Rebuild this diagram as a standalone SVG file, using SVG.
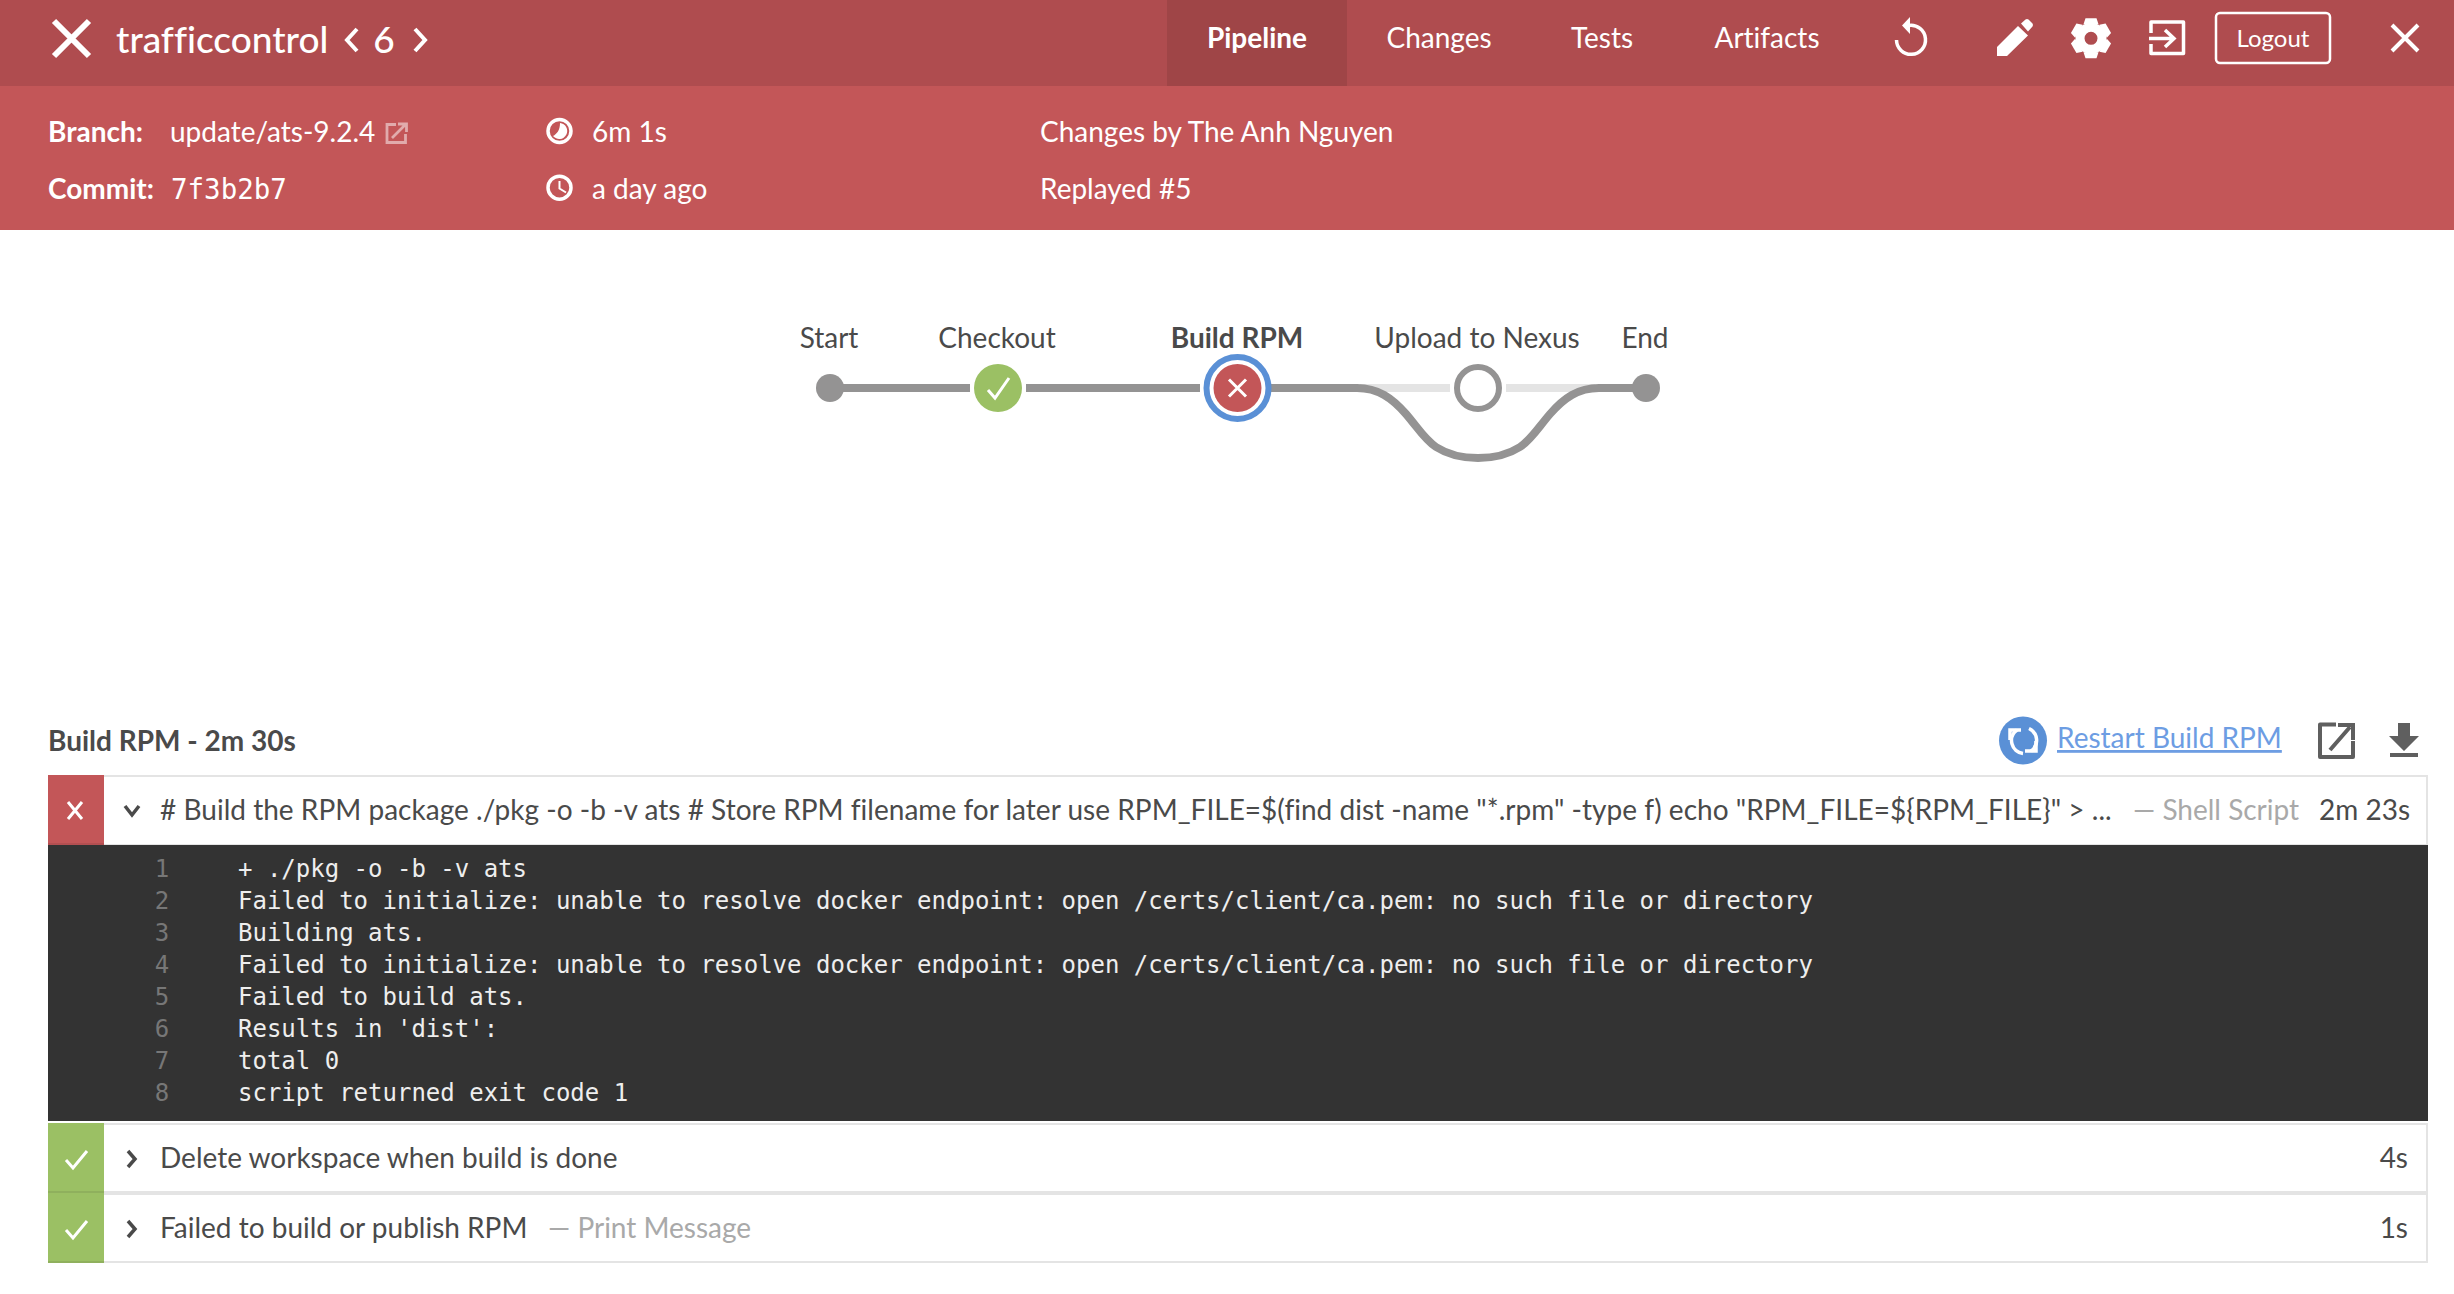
<svg xmlns="http://www.w3.org/2000/svg" xmlns:xlink="http://www.w3.org/1999/xlink" width="2454" height="1294" viewBox="0 0 2454 1294">
<style>
text{font-family:Lato,"Open Sans",sans-serif;font-size:28px;fill:#4a4a4a;font-variant-ligatures:none}
.w{fill:#fff}
.b{font-weight:700}
.mono{font-family:"DejaVu Sans Mono","Liberation Mono",monospace;font-size:24px;fill:#eee}
.num{font-family:"DejaVu Sans Mono","Liberation Mono",monospace;font-size:24px;fill:#777;text-anchor:middle}
.m{text-anchor:middle}
.e{text-anchor:end}
.g{fill:#a9a9a9}
.ic{fill:none;stroke:#fff;stroke-width:3.5}
.ch{fill:none;stroke:#4a4a4a;stroke-width:3.5}
.tick{fill:none;stroke:#fff;stroke-width:3}
.edge{fill:none;stroke:#949393;stroke-width:8}
.skip{fill:none;stroke:#e4e4e4;stroke-width:8}
.rowb{fill:#fff;stroke:#e4e4e4;stroke-width:2}
</style>
<defs><path id="tooth" d="M-7.500 -14 L-5.500 -20 H5.500 L7.500 -14Z" fill="#fff"/></defs>
<rect width="2454" height="1294" fill="#fff"/>
<g id="topbar">
<rect width="2454" height="86" fill="#af4c4f"/>
<rect x="1167" width="180" height="86" fill="#9f4547"/>
<path d="M54 21 89 56M89 21 54 56" stroke="#fff" stroke-width="6" fill="none"/>
<text class="w" x="116" y="53" style="font-size:37px;font-weight:500">trafficcontrol</text>
<path d="M357 29 347 40 357 51M415 29 425 40 415 51" stroke="#fff" stroke-width="4" fill="none"/>
<text class="w m" x="384" y="53" style="font-size:37px;font-weight:500">6</text>
<text class="w m b" x="1257" y="48">Pipeline</text>
<text class="w m" x="1439" y="48">Changes</text>
<text class="w m" x="1602" y="48">Tests</text>
<text class="w m" x="1767" y="48">Artifacts</text>
<g id="replay-icon">
<path class="ic" d="M1909 25.500A14.500 14.500 0 1 1 1896.500 40"/>
<path d="M1902 25.500 1910 17V34Z" fill="#fff"/>
</g>
<g id="pencil-icon">
<path d="M1997 47 2018 26 2028 35.500 2007 56H1997ZM2021 23.500 2025.500 19.500Q2027 18.500 2028.500 19.500L2032.500 23.500Q2033.500 25 2032.500 26.500L2028 31.500Z" fill="#fff"/>
</g>
<g id="gear-icon" transform="translate(2091 38.300)">
<circle r="11" fill="none" stroke="#fff" stroke-width="9"/>
<use xlink:href="#tooth" href="#tooth"/>
<use xlink:href="#tooth" href="#tooth" transform="rotate(60)"/>
<use xlink:href="#tooth" href="#tooth" transform="rotate(120)"/>
<use xlink:href="#tooth" href="#tooth" transform="rotate(180)"/>
<use xlink:href="#tooth" href="#tooth" transform="rotate(240)"/>
<use xlink:href="#tooth" href="#tooth" transform="rotate(300)"/>
</g>
<g id="exit-icon">
<path class="ic" stroke-linejoin="round" d="M2151 33V22H2183.500V53.500H2151V44"/>
<path class="ic" d="M2149 38.500H2173M2165 30 2174 38.500 2165 47"/>
</g>
<rect x="2216" y="13" width="114" height="50" rx="4" fill="none" stroke="#fff" stroke-width="2.5"/>
<text class="w m" x="2273" y="47" style="font-size:24px">Logout</text>
<path d="M2392 25 2418 51M2418 25 2392 51" stroke="#fff" stroke-width="4" fill="none"/>
</g>
<g id="header">
<rect y="86" width="2454" height="144" fill="#c35658"/>
<text class="w b" x="48" y="141.500">Branch:</text>
<text class="w" x="170" y="141.500">update/ats-9.2.4</text>
<path d="M396 124.500H387V142.500H405.500V134M392 138 406 124M398 124H406.500V132" fill="none" stroke="#fff" stroke-opacity=".5" stroke-width="2.800"/>
<circle cx="559.500" cy="131" r="11.500" class="ic" stroke-width="3"/>
<path d="M560 123A8 8 0 1 1 553 136C557 134 560 130 560 123Z" fill="#fff"/>
<text class="w" x="592" y="141.500">6m 1s</text>
<text class="w" x="1040" y="141.500">Changes by The Anh Nguyen</text>
<text class="w b" x="48" y="199">Commit:</text>
<text class="mono w" x="171" y="199" style="font-size:27.5px;fill:#fff">7f3b2b7</text>
<circle cx="559.500" cy="187.700" r="11.500" class="ic" stroke-width="3"/>
<path d="M559.500 181V188.500L566 192.500" fill="none" stroke="#fff" stroke-width="2"/>
<text class="w" x="592" y="199">a day ago</text>
<text class="w" x="1040" y="199">Replayed #5</text>
</g>
<g id="connectors">
<path class="skip" d="M1360 388H1450M1506 388H1595"/>
<path class="edge" d="M830 388H970M1026 388H1200M1270 388H1357C1378 388 1392 398 1406 414C1418 428 1425 440 1436 447C1450 456 1465 458 1478 458C1491 458 1506 456 1520 447C1531 440 1538 428 1550 414C1564 398 1578 388 1599 388H1646"/>
</g>
<g id="node-start">
<circle cx="830" cy="388" r="14" fill="#949393"/>
<text class="m" x="829" y="348">Start</text>
</g>
<g id="node-checkout">
<circle cx="998" cy="388" r="24" fill="#9bc064"/>
<path class="tick" d="M988 390 995 398 1009 378"/>
<text class="m" x="997" y="348">Checkout</text>
</g>
<g id="node-build">
<circle cx="1237.500" cy="388" r="31" fill="#fff" stroke="#5a90d6" stroke-width="6"/>
<circle cx="1237.500" cy="388" r="24" fill="#c35658"/>
<path d="M1229 379.500 1246 396.500M1246 379.500 1229 396.500" stroke="#fff" stroke-width="3"/>
<text class="m b" x="1237" y="348">Build RPM</text>
</g>
<g id="node-upload">
<circle cx="1478" cy="388" r="21" fill="#fff" stroke="#949393" stroke-width="6"/>
<text class="m" x="1477" y="348">Upload to Nexus</text>
</g>
<g id="node-end">
<circle cx="1646" cy="388" r="14" fill="#949393"/>
<text class="m" x="1645" y="348">End</text>
</g>
<g id="step-title">
<text class="b" x="48" y="751">Build RPM - 2m 30s</text>
<circle cx="2023" cy="740.500" r="24" fill="#5a90d6"/>
<path d="M2017 730A13 13 0 0 0 2023 753.500M2029 728.500A13 13 0 0 1 2031 751" fill="none" stroke="#fff" stroke-width="3.500"/>
<path d="M2010 740V730H2021M2036 741V751H2025" fill="none" stroke="#fff" stroke-width="3.500"/>
<text x="2057" y="748" style="fill:#6d9de3;text-decoration:underline">Restart Build RPM</text>
<path d="M2336 724.500H2320V757H2353V741" fill="none" stroke="#5f5f5f" stroke-width="4" stroke-linejoin="round"/>
<path d="M2330 750 2350 727M2338 725H2353V740" fill="none" stroke="#5f5f5f" stroke-width="4"/>
<path d="M2398 723H2410V736H2419L2404 751 2389 736H2398ZM2390 753H2418V757H2390Z" fill="#5f5f5f"/>
</g>
<g id="step-1">
<rect class="rowb" x="49" y="776" width="2378" height="69"/>
<rect x="48" y="775" width="56" height="70" fill="#c35658"/>
<rect x="48" y="843" width="56" height="2" fill="#b34f51"/>
<path d="M68 802 82 819M82 802 68 819" stroke="#fff" stroke-width="3"/>
<path class="ch" d="M125 806 132 815 139 806"/>
<text x="160" y="820" letter-spacing="0.02"># Build the RPM package ./pkg -o -b -v ats # Store RPM filename for later use RPM_FILE=$(find dist -name "*.rpm" -type f) echo "RPM_FILE=${RPM_FILE}" &gt; ...</text>
<text class="g" x="2133" y="820">— Shell Script</text>
<text x="2319" y="820">2m 23s</text>
</g>
<g id="log">
<rect x="48" y="845" width="2380" height="276" fill="#333"/>
<text class="num" x="162" y="877">1</text><text class="mono" x="238" y="877">+ ./pkg -o -b -v ats</text>
<text class="num" x="162" y="909">2</text><text class="mono" x="238" y="909">Failed to initialize: unable to resolve docker endpoint: open /certs/client/ca.pem: no such file or directory</text>
<text class="num" x="162" y="941">3</text><text class="mono" x="238" y="941">Building ats.</text>
<text class="num" x="162" y="973">4</text><text class="mono" x="238" y="973">Failed to initialize: unable to resolve docker endpoint: open /certs/client/ca.pem: no such file or directory</text>
<text class="num" x="162" y="1005">5</text><text class="mono" x="238" y="1005">Failed to build ats.</text>
<text class="num" x="162" y="1037">6</text><text class="mono" x="238" y="1037">Results in 'dist':</text>
<text class="num" x="162" y="1069">7</text><text class="mono" x="238" y="1069">total 0</text>
<text class="num" x="162" y="1101">8</text><text class="mono" x="238" y="1101">script returned exit code 1</text>
</g>
<g id="step-2">
<rect class="rowb" x="49" y="1124" width="2378" height="68"/>
<rect x="48" y="1123" width="56" height="70" fill="#9bc064"/>
<rect x="48" y="1191" width="56" height="2" fill="#8fb05d"/>
<path class="tick" d="M66 1160 73 1168 87 1151"/>
<path class="ch" d="M128 1151 135 1159 128 1167"/>
<text x="160" y="1168">Delete workspace when build is done</text>
<text class="e" x="2408" y="1168">4s</text>
</g>
<g id="step-3">
<rect class="rowb" x="49" y="1194" width="2378" height="68"/>
<rect x="48" y="1193" width="56" height="70" fill="#9bc064"/>
<rect x="48" y="1261" width="56" height="2" fill="#8fb05d"/>
<path class="tick" d="M66 1230 73 1238 87 1221"/>
<path class="ch" d="M128 1221 135 1229 128 1237"/>
<text x="160" y="1238">Failed to build or publish RPM</text>
<text class="g" x="548" y="1238">— Print Message</text>
<text class="e" x="2408" y="1238">1s</text>
</g>
</svg>
